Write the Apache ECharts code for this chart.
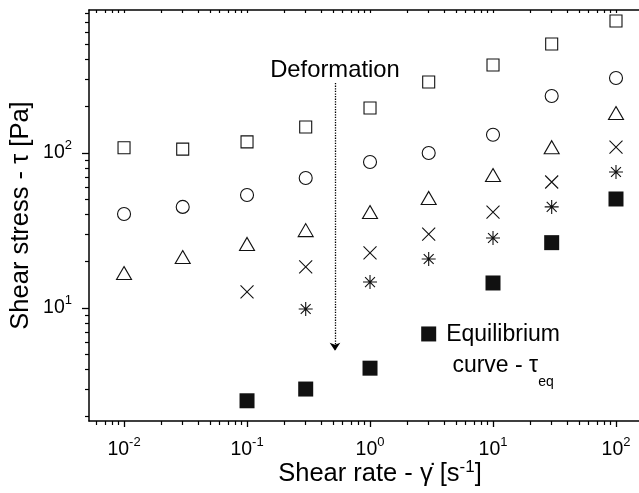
<!DOCTYPE html>
<html><head><meta charset="utf-8">
<script src="https://cdn.jsdelivr.net/npm/echarts@6/dist/echarts.min.js"></script>
<style>html,body{margin:0;padding:0;background:#fff}#c{width:639px;height:493px}</style>
</head><body><div id="c"></div>
<script>
// ---- data ----
const shearRate   = [0.01, 0.03, 0.1, 0.3, 1, 3, 10, 30, 100];
const stressSq    = [108, 106, 118, 147, 195, 287, 370, 505, 711];      // open squares
const stressCirc  = [40.4, 44.9, 53.6, 69, 87.5, 100, 131, 233, 305];   // open circles
const stressTri   = [16.8, 21.3, 25.9, 31.8, 41.6, 51.3, 72.1, 109, 181]; // open triangles
const stressCross = [null, null, 12.7, 18.4, 22.7, 30.0, 41.6, 65.0, 109]; // crosses
const stressStar  = [null, null, null, 9.85, 14.7, 20.7, 28.3, 44.9, 75.4]; // asterisks
const stressEq    = [null, null, 2.52, 3.0, 4.09, 6.8, 14.5, 26.4, 50.5];   // equilibrium (filled)
const xMajorTicks = [0.01, 0.1, 1, 10, 100];
const yMajorTicks = [10, 100];
const minorMultipliers = [2, 3, 4, 5, 6, 7, 8, 9];
const xDecades = [0.001, 0.01, 0.1, 1, 10, 100];
const yDecades = [1, 10, 100];
const xRange = [0.00519, 185.5];
const yRange = [1.866, 836.8];
const arrowX = 0.519;
const arrowY = [282.8, 5.3];
const annotationText = 'Deformation';
const eqLabelRate = 3;

// ---- helpers ----
function minorTicks(decades){ const out=[]; decades.forEach(d=>minorMultipliers.forEach(m=>out.push(+(d*m).toPrecision(6)))); return out; }
const xMinorTicks = minorTicks(xDecades);
const yMinorTicks = minorTicks(yDecades);
function pairs(vals){ const out=[]; shearRate.forEach((x,i)=>{ if(vals[i]!=null) out.push([x, vals[i]]); }); return out; }
function hasFont(name){
  const c=document.createElement('canvas').getContext('2d'); const t='Shear rate 0123456789 Equilibrium';
  c.font='30px monospace'; const a=c.measureText(t).width;
  c.font="30px '"+name+"', monospace"; const b=c.measureText(t).width;
  return Math.abs(a-b)>0.5;
}
const narrow = hasFont('Liberation Sans Narrow');
const axFont = narrow ? "'Liberation Sans Narrow', 'Liberation Sans', Arial, sans-serif" : "'Liberation Sans', Arial, sans-serif";
const tickSize = narrow ? 23 : 19.5;
const supSize = narrow ? 15 : 13;
const titleSize = narrow ? 30 : 25.5;
const annFont = "'Liberation Sans', Arial, sans-serif";
const ink = '#000';

const tickRich = {
  b: {fontFamily: axFont, fontSize: tickSize, color: ink, lineHeight: 28},
  s: {fontFamily: axFont, fontSize: supSize, color: ink, lineHeight: 12, verticalAlign: 'top'}
};
const tickFormatter = v => '{b|10}{s|' + Math.round(Math.log10(v)) + '}';

const base = {
  type: 'log', logBase: 10, splitLine: {show: false}, minorTick: {show: false},
  axisPointer: {show: false}, silent: true
};
const lineStyle = {color: ink, width: 1.5};

const xAxes = [
  Object.assign({}, base, {
    min: xRange[0], max: xRange[1], position: 'bottom',
    axisLine: {show: true, onZero: false, lineStyle},
    axisTick: {show: true, inside: false, length: 6, customValues: xMajorTicks, lineStyle: {color: ink, width: 1.3}},
    axisLabel: {show: true, customValues: xMajorTicks, margin: 15, formatter: tickFormatter, rich: tickRich},
    name: '{t|Shear rate - γ̇ [s}{s|-1}{t|]}', nameLocation: 'middle', nameGap: 38, nameMoveOverlap: false,
    nameTextStyle: {padding: [0, 0, 0, 22], rich: {
      t: {fontFamily: axFont, fontSize: titleSize, color: ink, lineHeight: 30},
      s: {fontFamily: axFont, fontSize: 17, color: ink, lineHeight: 20, verticalAlign: 'top'}
    }}
  }),
  Object.assign({}, base, {
    min: xRange[0], max: xRange[1], position: 'bottom',
    axisLine: {show: false, onZero: false},
    axisTick: {show: true, inside: false, length: 4, customValues: xMinorTicks, lineStyle: {color: ink, width: 1.2}},
    axisLabel: {show: false}
  }),
  Object.assign({}, base, {
    min: xRange[0], max: xRange[1], position: 'top',
    axisLine: {show: true, onZero: false, lineStyle},
    axisTick: {show: true, inside: true, length: 3, customValues: xMajorTicks.concat(xMinorTicks), lineStyle: {color: ink, width: 1.2}},
    axisLabel: {show: false}
  })
];
const yAxes = [
  Object.assign({}, base, {
    min: yRange[0], max: yRange[1], position: 'left',
    axisLine: {show: true, onZero: false, lineStyle},
    axisTick: {show: true, inside: false, length: 7, customValues: yMajorTicks, lineStyle: {color: ink, width: 1.3}},
    axisLabel: {show: true, customValues: yMajorTicks, margin: 17, formatter: tickFormatter, rich: tickRich},
    name: '{t|Shear stress - τ [Pa]}', nameLocation: 'middle', nameGap: 53, nameRotate: 90, nameMoveOverlap: false,
    nameTextStyle: {rich: {t: {fontFamily: axFont, fontSize: titleSize, color: ink, lineHeight: 30}}}
  }),
  Object.assign({}, base, {
    min: yRange[0], max: yRange[1], position: 'left',
    axisLine: {show: false, onZero: false},
    axisTick: {show: true, inside: false, length: 4, customValues: yMinorTicks, lineStyle: {color: ink, width: 1.2}},
    axisLabel: {show: false}
  })
];

const openStyle = {color: 'none', borderColor: '#111', borderWidth: 1.1, opacity: 1};
function scatter(name, vals, symbol, size, style, extra){
  return Object.assign({type: 'scatter', name, data: pairs(vals), symbol, symbolSize: size,
    itemStyle: style, xAxisIndex: 0, yAxisIndex: 0, silent: true, emphasis: {disabled: true}}, extra || {});
}

const series = [
  scatter('squares', stressSq, 'rect', 12, openStyle, {
    markLine: {
      silent: true, animation: false, symbol: ['none', 'arrow'], symbolSize: 8,
      lineStyle: {type: 'dotted', color: ink, width: 1.3, opacity: 1},
      label: {show: true, position: 'start', distance: 1, formatter: annotationText,
        fontFamily: annFont, fontSize: 23.8, color: ink},
      emphasis: {disabled: true},
      data: [[{coord: [arrowX, arrowY[0]]}, {coord: [arrowX, arrowY[1]]}]]
    }
  }),
  scatter('circles', stressCirc, 'circle', 13, openStyle),
  scatter('triangles', stressTri, 'triangle', [15, 13], openStyle),
  scatter('crosses', stressCross, 'path://M0,0L10,10M10,0L0,10', 13, openStyle),
  scatter('asterisks', stressStar, 'path://M5,0L5,10M0,5L10,5M1.46,1.46L8.54,8.54M8.54,1.46L1.46,8.54', 14, openStyle),
  scatter('equilibrium', stressEq, 'rect', 15, {color: '#111', opacity: 1}, {
    label: {
      show: true, position: 'right', distance: 10, offset: [0, 18.5],
      formatter: p => p.value[0] === eqLabelRate ? '{e|Equilibrium}\n{c|curve - }{t|τ}{s|eq}' : '',
      rich: {
        e: {fontFamily: annFont, fontSize: 23, color: ink, lineHeight: 38, align: 'center'},
        c: {fontFamily: annFont, fontSize: 23, color: ink, lineHeight: 32, verticalAlign: 'top', align: 'center'},
        t: {fontFamily: annFont, fontSize: 23, color: ink, lineHeight: 32, verticalAlign: 'top', align: 'center'},
        s: {fontFamily: annFont, fontSize: 14, color: ink, padding: [21, 0, 0, 0], verticalAlign: 'top', align: 'center'}
      }
    }
  })
];

const chart = echarts.init(document.getElementById('c'), null, {renderer: 'canvas', width: 639, height: 493});
chart.setOption({
  animation: false,
  backgroundColor: '#fff',
  grid: {left: 89, top: 10, right: -10, bottom: 72, containLabel: false, outerBoundsMode: 'none'},
  xAxis: xAxes,
  yAxis: yAxes,
  series
});
</script>
</body></html>
